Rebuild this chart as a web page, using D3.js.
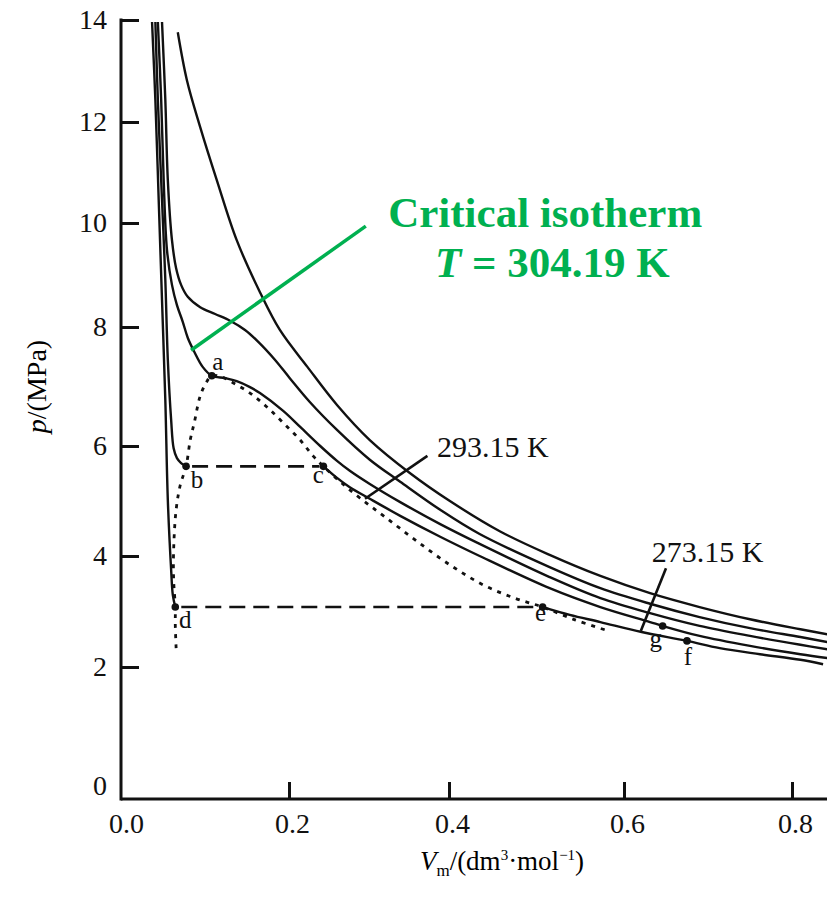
<!DOCTYPE html>
<html lang="en">
<head>
  <meta charset="UTF-8">
  <title>CO2 p-Vm isotherms</title>
  <script src="https://d3js.org/d3.v7.min.js"></script>
  <style>
    body { margin: 0; background: #fff; }
    svg { display: block; font-family: "Liberation Serif", "Times New Roman", serif; }
    .axis text { font-family: "Liberation Serif", "Times New Roman", serif; font-size: 28px; fill: #111; }
    .axis line { stroke: #111; stroke-width: 3; }
    .axis-line { stroke: #111; stroke-width: 3; }
    .iso { fill: none; stroke: #111; stroke-width: 2.4; }
    .tie { fill: none; stroke: #111; stroke-width: 2.6; stroke-dasharray: 16,8; }
    .dome { fill: none; stroke: #111; stroke-width: 2.8; stroke-dasharray: 4,6; }
    .pt { fill: #111; }
    .pt-label { font-size: 25px; fill: #111; text-anchor: middle; }
    .t-label { font-size: 30px; fill: #111; }
    .leader { stroke: #111; stroke-width: 2.6; }
    .green { fill: #00b050; font-weight: bold; font-size: 43px; text-anchor: middle; }
  </style>
</head>
<body>
<svg id="chart" width="827" height="904"></svg>
<script>
// axis ticks
const vTicks = [0, 0.2, 0.4, 0.6, 0.8];
const pTicks = [0, 2, 4, 6, 8, 10, 12, 14];

// isotherms [Vm (dm3/mol), p (MPa)]
const isoA = [[0.066,13.76],[0.077,12.82],[0.093,11.90],[0.113,10.85],[0.137,9.67],[0.165,8.67],
  [0.189,7.95],[0.223,7.33],[0.26,6.69],[0.301,6.10],[0.351,5.51],[0.401,5.00],[0.458,4.45],
  [0.515,4.02],[0.573,3.64],[0.631,3.33],[0.690,3.08],[0.75,2.86],[0.81,2.68],[0.842,2.59]];

const isoB = [[0.047,13.96],[0.051,12.43],[0.054,10.85],[0.059,9.67],[0.064,9.13],[0.070,8.81],
  [0.078,8.58],[0.093,8.38],[0.111,8.25],[0.129,8.12],[0.147,7.95],[0.163,7.75],[0.183,7.45],
  [0.201,7.14],[0.226,6.74],[0.26,6.27],[0.301,5.75],[0.339,5.35],[0.389,4.84],[0.435,4.40],
  [0.515,3.80],[0.573,3.42],[0.631,3.14],[0.690,2.90],[0.75,2.70],[0.81,2.54],[0.842,2.45]];

// critical isotherm, 304.19 K
const isoC = [[0.042,13.96],[0.046,12.43],[0.049,10.85],[0.053,9.48],[0.059,8.81],[0.065,8.42],
  [0.072,8.10],[0.078,7.82],[0.086,7.58],[0.096,7.33],[0.107,7.18],[0.123,7.14],[0.137,7.09],
  [0.153,6.99],[0.165,6.89],[0.193,6.59],[0.214,6.32],[0.239,6.00],[0.26,5.73],[0.276,5.55],
  [0.301,5.31],[0.339,4.98],[0.389,4.58],[0.435,4.22],[0.515,3.62],[0.573,3.24],[0.631,2.97],
  [0.69,2.74],[0.75,2.56],[0.81,2.40],[0.842,2.32]];

// 293.15 K
const liqD = [[0.039,13.96],[0.042,12.43],[0.047,10.46],[0.051,8.90],[0.054,7.45],[0.058,6.44],
  [0.061,5.96],[0.065,5.78],[0.070,5.69],[0.076,5.63]];
const gasD = [[0.243,5.63],[0.26,5.42],[0.276,5.25],[0.301,5.04],[0.339,4.73],[0.389,4.35],
  [0.435,4.00],[0.515,3.42],[0.573,3.08],[0.631,2.81],[0.646,2.74],[0.69,2.56],[0.75,2.38],
  [0.81,2.23],[0.842,2.16]];

// 273.15 K
const liqE = [[0.035,13.96],[0.039,12.43],[0.043,10.46],[0.047,8.52],[0.051,6.77],[0.054,5.02],
  [0.058,3.75],[0.060,3.30],[0.063,3.08]];
const gasE = [[0.507,3.08],[0.538,2.94],[0.573,2.81],[0.621,2.63],[0.675,2.47],[0.714,2.34],
  [0.762,2.23],[0.81,2.13],[0.837,2.05]];

// two-phase boundary (dotted)
const dome = [[0.064,2.34],[0.063,2.76],[0.063,3.08],[0.061,3.57],[0.061,4.11],[0.064,4.84],
  [0.069,5.29],[0.076,5.63],[0.081,6.10],[0.086,6.40],[0.093,6.84],[0.100,7.06],[0.107,7.18],
  [0.119,7.16],[0.133,7.06],[0.153,6.89],[0.173,6.66],[0.193,6.39],[0.214,6.10],[0.23,5.82],
  [0.243,5.63],[0.264,5.35],[0.289,5.05],[0.32,4.71],[0.358,4.29],[0.401,3.84],[0.439,3.48],
  [0.475,3.24],[0.507,3.08],[0.544,2.85],[0.578,2.67]];

const points = [
  { name: "a", v: 0.107, p: 7.18 },
  { name: "b", v: 0.076, p: 5.63 },
  { name: "c", v: 0.243, p: 5.63 },
  { name: "d", v: 0.063, p: 3.08 },
  { name: "e", v: 0.507, p: 3.08 },
  { name: "g", v: 0.646, p: 2.74 },
  { name: "f", v: 0.675, p: 2.47 }
];

const svg = d3.select("#chart");

const x = d3.scaleLinear().domain(vTicks).range([123, 289, 449, 624, 792]);
const y = d3.scaleLinear().domain(pTicks).range([786, 667, 556, 446, 327, 223, 122, 20]);

const axisY = 799;   // x axis sits a little under p = 0
const axisX = 121;

// axes
const gy = svg.append("g").attr("class", "axis")
  .attr("transform", `translate(${axisX},0)`)
  .call(d3.axisLeft(y).tickValues(pTicks).tickSize(-18).tickSizeOuter(0).tickPadding(14));
gy.select(".domain").remove();
gy.selectAll(".tick").filter(d => d === 0).select("line").remove();

const gx = svg.append("g").attr("class", "axis")
  .attr("transform", `translate(0,${axisY})`)
  .call(d3.axisBottom(x).tickValues(vTicks).tickFormat(d3.format(".1f"))
    .tickSize(-17).tickSizeOuter(0).tickPadding(14));
gx.select(".domain").remove();
gx.selectAll(".tick").filter(d => d === 0).select("line").remove();
gx.selectAll("text").attr("dx", 3);

svg.append("line").attr("class", "axis-line")
  .attr("x1", axisX).attr("x2", axisX).attr("y1", y(14) - 1.5).attr("y2", axisY + 1.5);
svg.append("line").attr("class", "axis-line")
  .attr("x1", axisX).attr("x2", 827).attr("y1", axisY).attr("y2", axisY);

// axis titles
svg.append("text")
  .attr("transform", `translate(46,${y(7)}) rotate(-90)`)
  .attr("text-anchor", "middle")
  .style("font-size", "28px")
  .html('<tspan font-style="italic">p</tspan>/(MPa)');

const xt = svg.append("text")
  .attr("x", 502).attr("y", 870)
  .attr("text-anchor", "middle")
  .style("font-size", "27px");
xt.append("tspan").attr("font-style", "italic").text("V");
xt.append("tspan").attr("font-size", "17px").attr("dy", 6).text("m");
xt.append("tspan").attr("dy", -6).text("/(dm");
xt.append("tspan").attr("font-size", "15px").attr("dy", -10).text("3");
xt.append("tspan").attr("dy", 10).text("·mol");
xt.append("tspan").attr("font-size", "15px").attr("dy", -10).text("−1");
xt.append("tspan").attr("dy", 10).text(")");

// curves
const line = d3.line()
  .x(d => x(d[0]))
  .y(d => y(d[1]))
  .curve(d3.curveCatmullRom.alpha(0.5));

[isoA, isoB, isoC, liqD, gasD, liqE, gasE].forEach(s => {
  svg.append("path").datum(s).attr("class", "iso").attr("d", line);
});

svg.append("path").datum(dome).attr("class", "dome").attr("d", line);

// tie lines
const ties = [[liqD[liqD.length - 1], gasD[0]], [liqE[liqE.length - 1], gasE[0]]];
ties.forEach(t => {
  svg.append("line").attr("class", "tie")
    .attr("x1", x(t[0][0]) + 6).attr("y1", y(t[0][1]))
    .attr("x2", x(t[1][0]) - 4).attr("y2", y(t[1][1]));
});

// labelled points
const labelOffset = { a: [6, -6], b: [11, 22], c: [-5, 17], d: [10, 21], e: [-2, 14], g: [-7, 21], f: [1, 24] };
svg.selectAll(".pt").data(points).enter().append("circle")
  .attr("class", "pt")
  .attr("cx", d => x(d.v)).attr("cy", d => y(d.p)).attr("r", 3.8);
svg.selectAll(".pt-label").data(points).enter().append("text")
  .attr("class", "pt-label")
  .attr("x", d => x(d.v) + labelOffset[d.name][0])
  .attr("y", d => y(d.p) + labelOffset[d.name][1])
  .text(d => d.name);

// temperature labels with leaders
const tLabels = [
  { text: "293.15 K", v: 0.385, p: 5.80, from: [0.373, 5.82], to: [0.295, 5.04] },
  { text: "273.15 K", v: 0.633, p: 3.89, from: [0.65, 3.78], to: [0.62, 2.65] }
];
tLabels.forEach(l => {
  svg.append("line").attr("class", "leader")
    .attr("x1", x(l.from[0])).attr("y1", y(l.from[1]))
    .attr("x2", x(l.to[0])).attr("y2", y(l.to[1]));
  svg.append("text").attr("class", "t-label")
    .attr("x", x(l.v)).attr("y", y(l.p)).text(l.text);
});

// critical isotherm annotation
svg.append("line")
  .attr("x1", x(0.296)).attr("y1", y(9.94))
  .attr("x2", x(0.082)).attr("y2", y(7.61))
  .attr("stroke", "#00b050").attr("stroke-width", 3.5);
svg.append("text").attr("class", "green")
  .attr("x", x(0.51)).attr("y", y(9.92)).text("Critical isotherm");
const g2 = svg.append("text").attr("class", "green")
  .attr("x", x(0.518)).attr("y", y(8.96));
g2.append("tspan").attr("font-style", "italic").text("T");
g2.append("tspan").text(" = 304.19 K");
</script>
</body>
</html>
